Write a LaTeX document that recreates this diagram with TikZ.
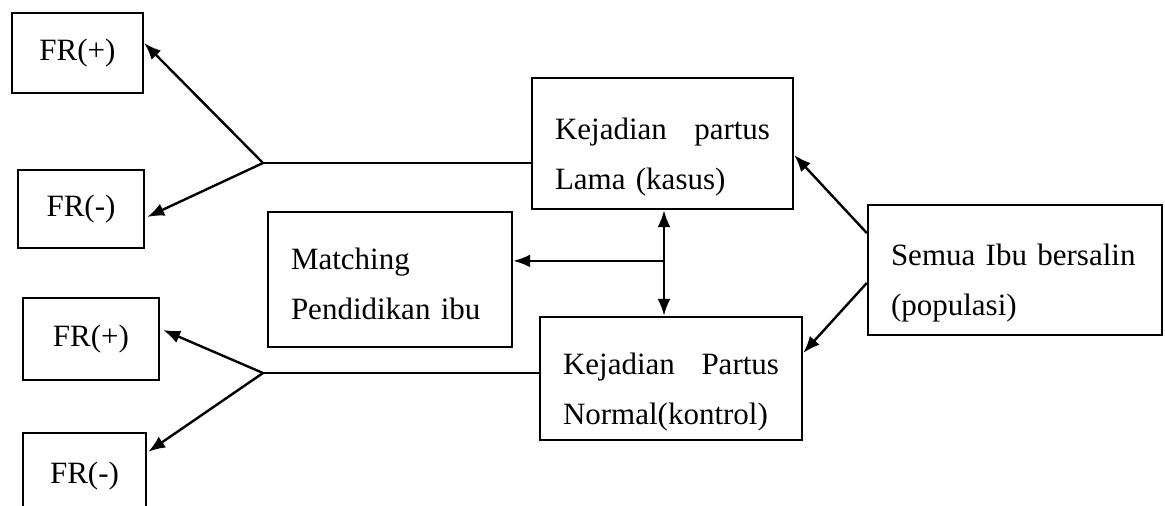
\documentclass[tikz,border=0pt]{standalone}
\usepackage{fontspec}
\setmainfont{Liberation Serif}
\usetikzlibrary{arrows.meta,calc}

\begin{document}
\begin{tikzpicture}[x=1pt, y=-1pt,
  box/.style={draw, line width=2.4pt, inner sep=0pt,
    font=\fontsize{31}{50}\selectfont},
  frbox/.style={box, align=center},
  textbox/.style={box, align=left, inner xsep=23pt,
    execute at begin node={\rule{0pt}{#1}}},
  textbox/.default=48pt,
  link/.style={line width=2.4pt},
  arr/.style={link, -{Latex[length=17pt, width=13pt]}},
  darr/.style={link, {Latex[length=17pt, width=13pt]}-{Latex[length=17pt, width=13pt]}}]
  \useasboundingbox (0,0) rectangle (1165,506);

  % Risk factor boxes
  \node[frbox, minimum width=131pt, minimum height=80pt] (fra) at (77.5,53) {FR(+)};
  \node[frbox, minimum width=126pt, minimum height=78pt] (frb) at (81,209) {FR(-)};
  \node[frbox, minimum width=136pt, minimum height=82pt] (frc) at (91,339) {FR(+)};
  \node[frbox, minimum width=123pt, minimum height=86pt] (frd) at (84.5,476) {FR(-)};

  % Case, control and matching
  \node[textbox, text width=215pt, minimum height=131pt] (lama) at (662.5,143.5)
    {Kejadian\hfill partus\\Lama (kasus)};
  \node[textbox, text width=216pt, minimum height=123pt] (kontrol) at (671,378.5)
    {Kejadian\hfill Partus\\Normal(kontrol)};
  \node[textbox=30pt, text width=198pt, minimum height=135pt] (match) at (390,279.5)
    {Matching\\Pendidikan ibu};
  \node[textbox, text width=248pt, minimum height=130pt] (semua) at (1015,270)
    {Semua Ibu bersalin\\(populasi)};

  % Population to case and control
  \draw[arr] ([yshift=37pt]semua.west) -- ([yshift=-11.5pt]lama.east);
  \draw[arr] ([yshift=-13pt]semua.west) -- ([yshift=25.5pt]kontrol.east);

  % Case <-> control, matching
  \coordinate (top) at ([xshift=1.5pt]lama.south);
  \coordinate (bot) at (top |- kontrol.north);
  \draw[darr] (top) -- (bot);
  \coordinate (mid) at ($(top)!0.48!(bot)$);
  \draw[arr] (mid) -- (mid -| match.east);

  % Looking back to risk factors
  \coordinate (ja) at (263,163);
  \draw[link] (lama.west |- ja) -- (ja);
  \draw[arr] (ja) -- ([yshift=10pt]fra.east);
  \draw[arr] (ja) -- ([xshift=2pt, yshift=-8pt]frb.east);

  \coordinate (jb) at (263,373);
  \draw[link] (kontrol.west |- jb) -- (jb);
  \draw[arr] (jb) -- ([xshift=3pt, yshift=9pt]frc.east);
  \draw[arr] (jb) -- ([xshift=1pt, yshift=-20pt]frd.north east);
\end{tikzpicture}
\end{document}
